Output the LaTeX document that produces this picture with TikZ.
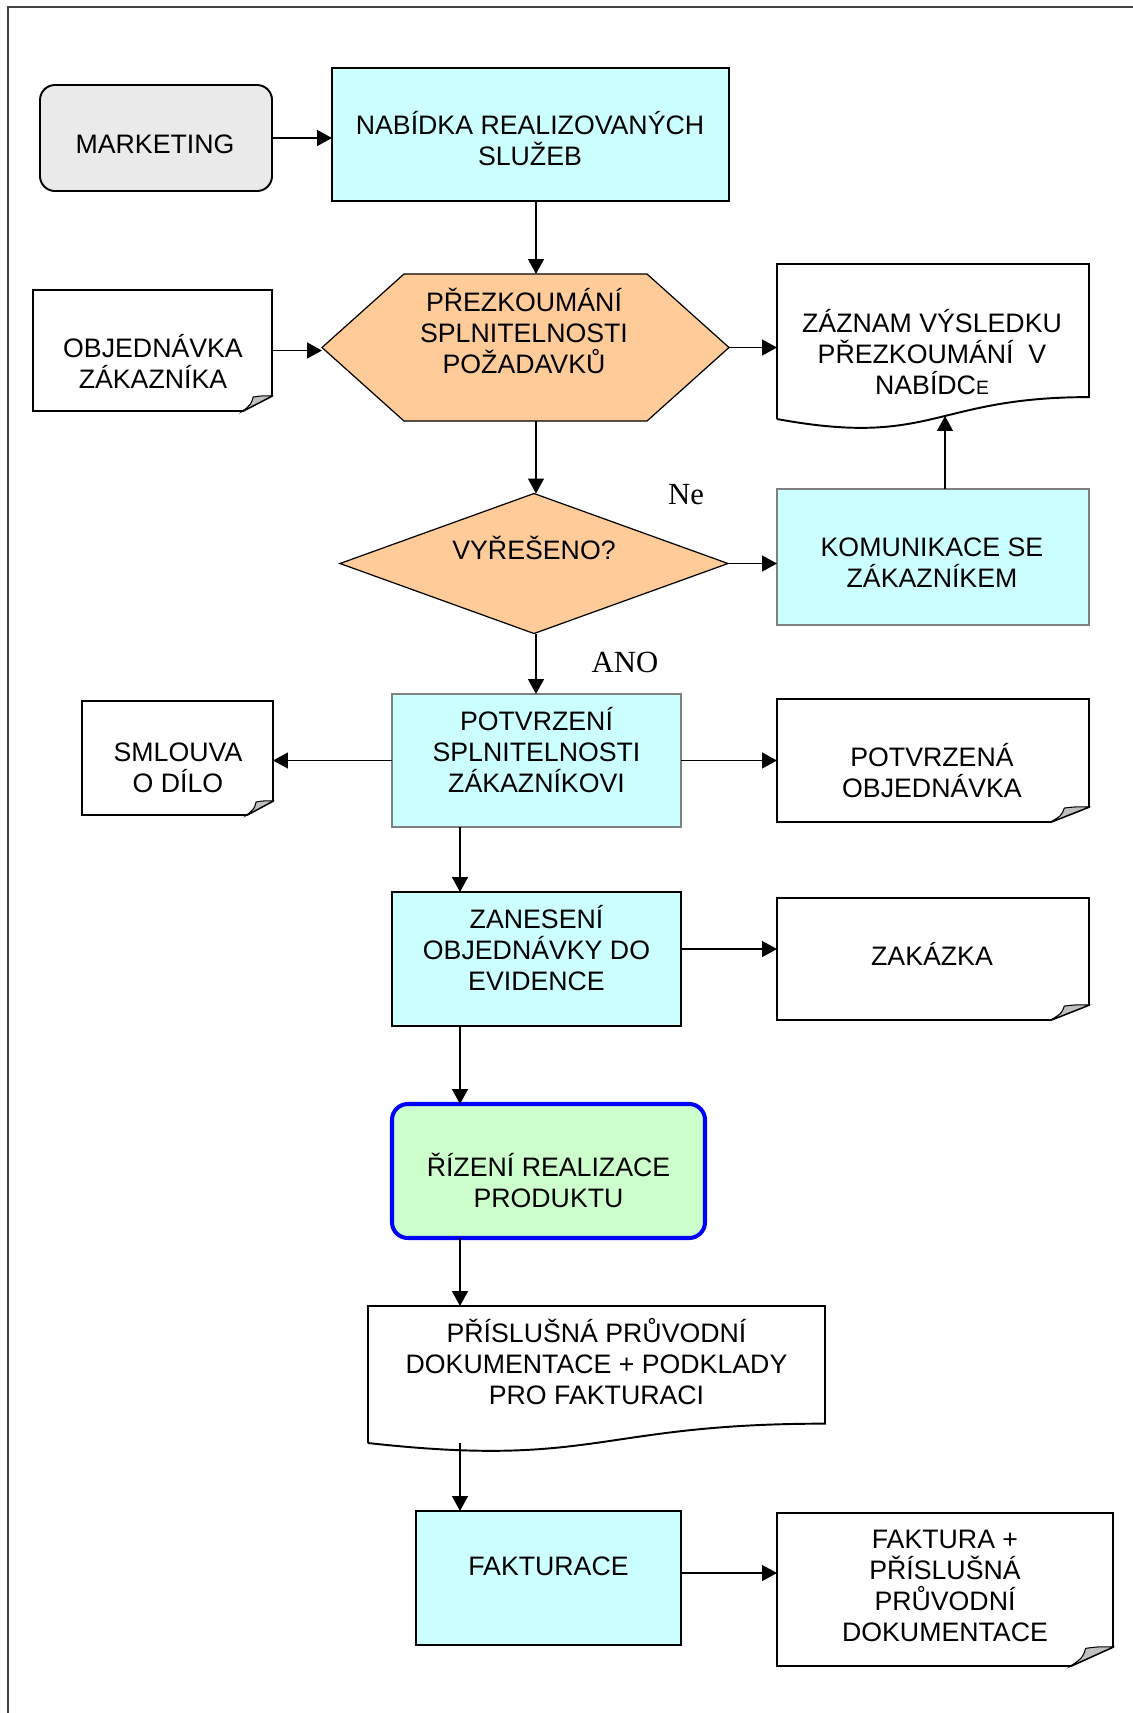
\documentclass[tikz,border=0pt]{standalone}
\usepackage{fontspec}
\setmainfont{Liberation Sans}
\newfontfamily\labelfont{Liberation Serif}
\usetikzlibrary{arrows.meta,calc,shapes.geometric}

\definecolor{procfill}{HTML}{CCFFFF}
\definecolor{decfill}{HTML}{FFCC99}
\definecolor{mktfill}{HTML}{EAEAEA}
\definecolor{ctrlfill}{HTML}{CCFFCC}
\definecolor{ctrlline}{HTML}{0000FF}
\definecolor{foldgray}{HTML}{C0C0C0}

% strut centred on the cap height, so a text node's centre sits on its capitals
\newcommand\capstrut{\rule[-4pt]{0pt}{14.7pt}}

% document sheet with a curled bottom-right corner: node, curl width, curl height
\newcommand\folddoc[3]{%
  \draw[docline] (#1.north west) -- (#1.north east) -- ($(#1.south east)+(0,-#3)$)
    -- ($(#1.south east)+(-#2,0)$) -- (#1.south west) -- cycle;
  \draw[line width=0.6pt, fill=foldgray] ($(#1.south east)+(-#2,0)$)
    .. controls ($(#1.south east)+(-0.72*#2,-0.45*#3)$) .. ($(#1.south east)+(-0.65*#2,-0.93*#3)$)
    .. controls ($(#1.south east)+(-0.35*#2,-1.02*#3)$) .. ($(#1.south east)+(0,-#3)$) -- cycle;}

% document sheet with a wavy bottom edge: node, height of its left side
\newcommand\wavedoc[2]{%
  \draw[docline] (#1.south west) -- (#1.north west) -- (#1.north east)
    -- ($(#1.north east)+(0,0.8587*#2)$)
    .. controls ($(#1.north)+(0,0.8587*#2)$) and ($(#1.north)+(0,1.1857*#2)$) .. (#1.south west);}

\tikzset{
  sz/.style 2 args={minimum width=#1*0.569pt, minimum height=#2*0.569pt,
    inner sep=0pt, outer sep=0pt},
  txt/.style={align=center, inner sep=0pt, font=\fontsize{15.2}{17.6}\selectfont,
    execute at begin node=\capstrut, execute at end node=\capstrut},
  lbl/.style={inner sep=0pt, font=\labelfont\fontsize{17.5}{20}\selectfont},
  proc/.style={draw, line width=1.1pt, fill=procfill},
  procthin/.style={draw=black!50, line width=0.6pt, fill=procfill},
  docline/.style={draw, line width=1.1pt, fill=white, line join=miter},
  flow/.style={-{Triangle[length=8.5pt,width=9pt]}, line width=1pt},
}

\begin{document}
\begin{tikzpicture}[x=0.569pt, y=-0.569pt]
\useasboundingbox (0,0) rectangle (1133,1713);

% page frame
\draw[black!75, line width=0.9pt] (8,1713) -- (8,7) -- (1133,7);

% columns of the vertical connectors
\coordinate (c1) at (536,0);
\coordinate (c2) at (460,0);

% ---- shapes ----
\node[proc, rounded corners=8.5pt, fill=mktfill, sz={232}{106}] (mkt) at (156,138) {};
\node[proc, sz={397}{133}] (nab) at (530.5,134.5) {};

\node[sz={407}{147}] (hex) at (525.5,347.5) {};
\draw[fill=decfill, line width=0.7pt] (hex.west) -- ($(hex.north west)+(82,0)$)
  -- ($(hex.north east)+(-82,0)$) -- (hex.east) -- ($(hex.south east)+(-82,0)$)
  -- ($(hex.south west)+(82,0)$) -- cycle;

\node[sz={239}{121}] (obj) at (152.5,350.5) {};
\folddoc{obj}{29}{15}

\node[sz={312}{155}] (zaz) at (933,341.5) {};
\wavedoc{zaz}{155}

\node[diamond, draw, fill=decfill, line width=0.7pt, aspect=2.77, sz={388}{140}] (dia) at (534,563.5) {};

\node[procthin, sz={312}{136}] (kom) at (933,557) {};
\node[procthin, sz={289}{133}] (potv) at (536.5,760.5) {};

\node[sz={191}{114}] (sml) at (177.5,758) {};
\folddoc{sml}{26}{14}

\node[sz={312}{123}] (potva) at (933,760.5) {};
\folddoc{potva}{38}{15}

\node[proc, sz={289}{134}] (zan) at (536.5,959) {};

\node[sz={312}{122}] (zak) at (933,959) {};
\folddoc{zak}{38}{15}

\node[draw=ctrlline, line width=2.3pt, fill=ctrlfill, rounded corners=9pt, sz={313}{134}] (riz) at (548.5,1171) {};

\node[sz={457}{137}] (pris) at (596.5,1374.5) {};
\wavedoc{pris}{137}

\node[proc, sz={265}{134}] (fak) at (548.5,1578) {};

\node[sz={336}{153}] (fakt) at (945,1589.5) {};
\folddoc{fakt}{42}{19}

% ---- texts ----
\node[txt] (mkt-t) at (155,148) {MARKETING};
\node[txt] (nab-t) at (530,142) {NABÍDKA REALIZOVANÝCH\\SLUŽEB};
\node[txt] (hex-t) at (524,334) {PŘEZKOUMÁNÍ\\SPLNITELNOSTI\\POŽADAVKŮ};
\node[txt] (obj-t) at (153,365) {OBJEDNÁVKA\\ZÁKAZNÍKA};
\node[txt] (zaz-t) at (932,355) {ZÁZNAM VÝSLEDKU\\PŘEZKOUMÁNÍ\ \ V\\NABÍDC{\fontsize{11}{11}\selectfont E}};
\node[txt] (dia-t) at (534,551) {VYŘEŠENO?};
\node[txt] (kom-t) at (932,566) {KOMUNIKACE SE\\ZÁKAZNÍKEM};
\node[txt] (potv-t) at (536.5,753) {POTVRZENÍ\\SPLNITELNOSTI\\ZÁKAZNÍKOVI};
\node[txt] (sml-t) at (178,771) {SMLOUVA\\O DÍLO};
\node[txt] (potva-t) at (932,774) {POTVRZENÁ\\OBJEDNÁVKA};
\node[txt] (zan-t) at (536.5,951) {ZANESENÍ\\OBJEDNÁVKY DO\\EVIDENCE};
\node[txt] (zak-t) at (932,957) {ZAKÁZKA};
\node[txt] (riz-t) at (548.5,1184) {ŘÍZENÍ REALIZACE\\PRODUKTU};
\node[txt] (pris-t) at (596.5,1365) {PŘÍSLUŠNÁ PRŮVODNÍ\\DOKUMENTACE + PODKLADY\\PRO FAKTURACI};
\node[txt] (fak-t) at (548.5,1570) {FAKTURACE};
\node[txt] (fakt-t) at (945,1589) {FAKTURA +\\PŘÍSLUŠNÁ\\PRŮVODNÍ\\DOKUMENTACE};

\node[lbl] (ne) at (686,495) {Ne};
\node[lbl] (ano) at (625,662) {ANO};

% ---- connectors ----
\coordinate (zazin) at ($(zaz.south)+(12,-3)$);
\draw[flow] (mkt.east) -- (mkt.east -| nab.west);
\draw[flow] (nab.south -| c1) -- (hex.north -| c1);
\draw[flow] (obj.east) -- (obj.east -| hex.west);
\draw[flow] (hex.east) -- (hex.east -| zaz.west);
\draw[flow] (hex.south -| c1) -- (dia.north -| c1);
\draw[flow] (dia.east) -- (dia.east -| kom.west);
\draw[flow] ($(kom.north)+(12,0)$) -- (zazin);
\draw[flow] (dia.south -| c1) -- (potv.north -| c1);
\draw[flow] (potv.west) -- (potv.west -| sml.east);
\draw[flow] (potv.east) -- (potv.east -| potva.west);
\draw[flow] (potv.south -| c2) -- (zan.north -| c2);
\draw[flow] ($(zan.east)+(0,-10)$) -- ($(zan.east -| zak.west)+(0,-10)$);
\draw[flow] (zan.south -| c2) -- (riz.north -| c2);
\draw[flow] (riz.south -| c2) -- (pris.north -| c2);
\draw[flow] (pris.south west -| c2) -- (fak.north -| c2);
\draw[flow] ($(fak.east)+(0,-5)$) -- ($(fak.east -| fakt.west)+(0,-5)$);
\end{tikzpicture}
\end{document}
